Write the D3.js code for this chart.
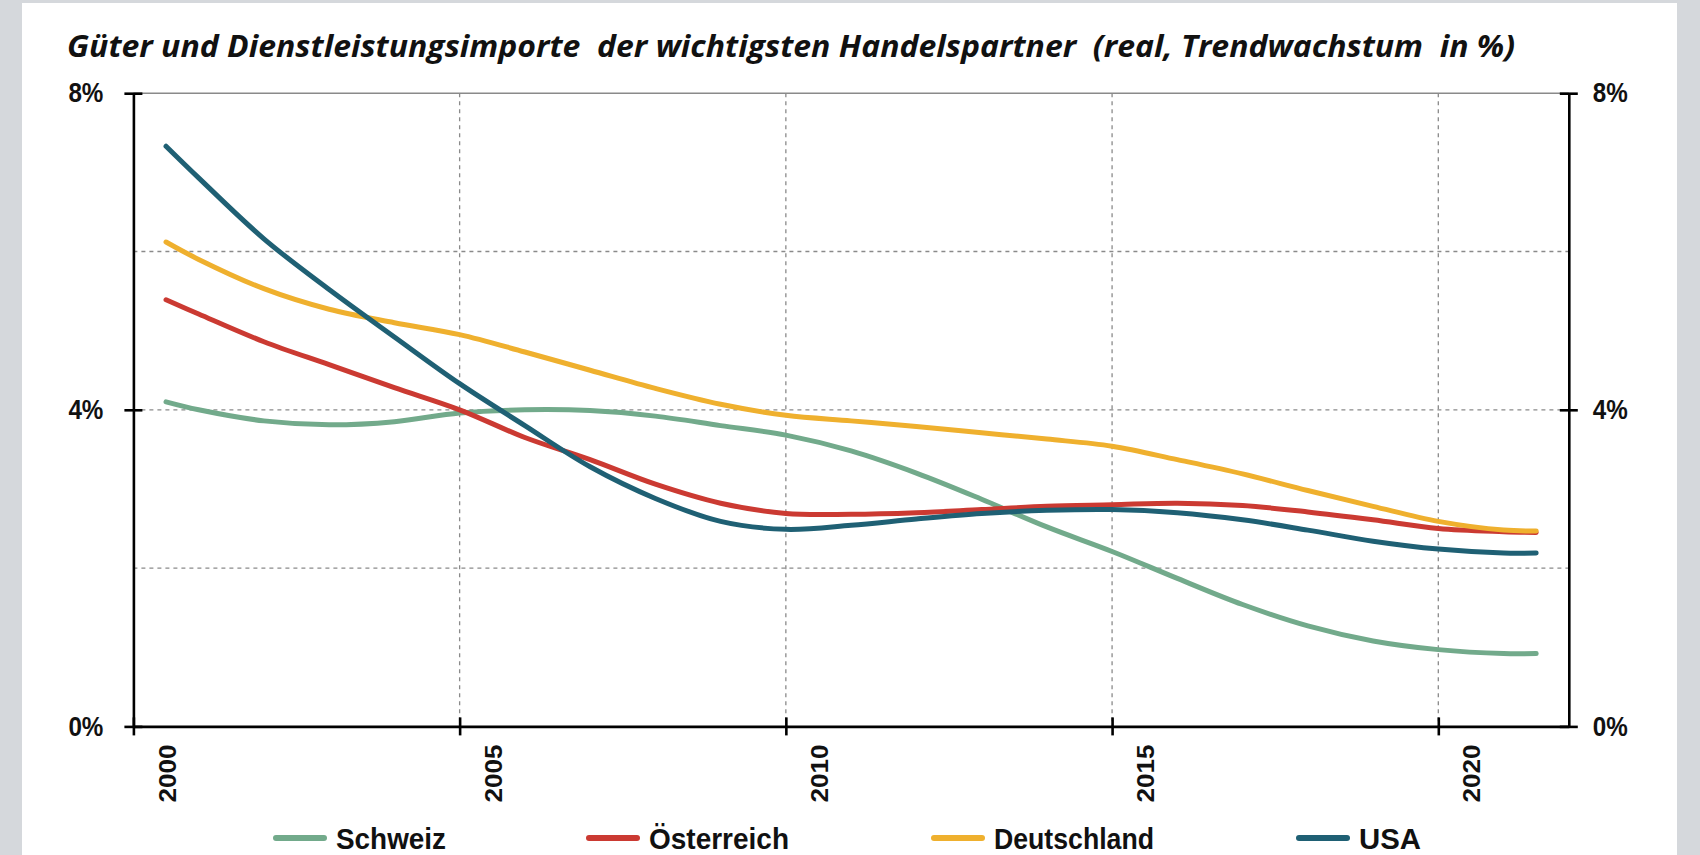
<!DOCTYPE html>
<html><head><meta charset="utf-8">
<script src="https://cdn.jsdelivr.net/npm/d3@7"></script>
<style>
html,body{margin:0;padding:0;background:#d5d8dc;}
svg{display:block;}
</style></head>
<body>
<svg id="c" width="1700" height="855"></svg>
<script>
const years = [2000.5,2001,2002,2003,2004,2005,2006,2007,2008,2009,2010,2011,2012,2013,2014,2015,2016,2017,2018,2019,2020,2021,2021.5];
const schweiz     = [4.10,4.00,3.86,3.81,3.85,3.96,4.00,3.99,3.92,3.80,3.68,3.48,3.20,2.87,2.52,2.21,1.87,1.54,1.27,1.08,0.97,0.92,0.92];
const oesterreich = [5.39,5.21,4.86,4.57,4.28,4.00,3.65,3.37,3.06,2.82,2.69,2.68,2.70,2.74,2.78,2.80,2.82,2.79,2.71,2.61,2.50,2.46,2.45];
const deutschland = [6.12,5.90,5.53,5.27,5.10,4.95,4.73,4.50,4.27,4.07,3.93,3.86,3.79,3.71,3.63,3.54,3.37,3.19,2.98,2.78,2.59,2.48,2.47];
const usa         = [7.33,6.93,6.16,5.52,4.92,4.33,3.80,3.28,2.88,2.59,2.49,2.54,2.62,2.69,2.73,2.74,2.70,2.61,2.48,2.34,2.24,2.19,2.19];
const seriesNames = ["Schweiz","Österreich","Deutschland","USA"];
const seriesColors = ["#72aa8b","#cb3a32","#efb02e","#1f6074"];
const xTicks = [2000,2005,2010,2015,2020];
const yTicksLabeled = [0,4,8];
const yGrid = [2,4,6];
const title = "Güter und Dienstleistungsimporte  der wichtigsten Handelspartner  (real, Trendwachstum  in %)";

const allSeries = [schweiz, oesterreich, deutschland, usa];
const svg = d3.select("#c");
svg.append("rect").attr("x",22).attr("y",3).attr("width",1655).attr("height",852).attr("fill","#fff");

const x = d3.scaleLinear().domain([2000,2022]).range([133.4,1568.8]);
const y = d3.scaleLinear().domain([0,8]).range([726.4,93.2]);
const x0 = x.range()[0], x1 = x.range()[1], y0 = y.range()[0], y1 = y.range()[1];

svg.append("text").attr("x",67).attr("y",57)
  .style("white-space","pre")
  .attr("font-family","'Open Sans', sans-serif").attr("font-style","italic").attr("font-weight",700)
  .attr("font-size",30).attr("fill","#111")
  .attr("textLength",1448).attr("lengthAdjust","spacingAndGlyphs")
  .text(title);

const grid = svg.append("g");
grid.selectAll("line.h").data(yGrid).join("line")
  .attr("x1",x0).attr("x2",x1).attr("y1",d=>y(d)).attr("y2",d=>y(d))
  .attr("stroke","#8a8a8a").attr("stroke-width",1.3).attr("stroke-dasharray","4,4");
grid.selectAll("line.v").data(xTicks.filter(d=>d>2000)).join("line")
  .attr("x1",d=>x(d)).attr("x2",d=>x(d)).attr("y1",y1).attr("y2",y0)
  .attr("stroke","#8a8a8a").attr("stroke-width",1.3).attr("stroke-dasharray","4,4");
svg.append("line").attr("x1",x0).attr("x2",x1).attr("y1",y1).attr("y2",y1)
  .attr("stroke","#8a8a8a").attr("stroke-width",1.5);

const line = d3.line().x((d,i)=>x(years[i])).y(d=>y(d)).curve(d3.curveCatmullRom.alpha(0.5));
svg.append("g").selectAll("path").data(allSeries).join("path")
  .attr("d",d=>line(d)).attr("fill","none")
  .attr("stroke",(d,i)=>seriesColors[i]).attr("stroke-width",5).attr("stroke-linecap","round");

const axL = svg.append("g").attr("transform",`translate(${x0},0)`)
  .call(d3.axisLeft(y).tickValues(yTicksLabeled).tickFormat(d=>d+"%").tickSizeOuter(0).tickPadding(24));
const axR = svg.append("g").attr("transform",`translate(${x1},0)`)
  .call(d3.axisRight(y).tickValues(yTicksLabeled).tickFormat(d=>d+"%").tickSizeOuter(0).tickPadding(18));
const axB = svg.append("g").attr("transform",`translate(0,${y0})`)
  .call(d3.axisBottom(x).tickValues(xTicks).tickFormat(d3.format("d")).tickSizeOuter(0));
[axL,axR].forEach(a=>{
  a.select(".domain").attr("stroke","#000").attr("stroke-width",2.6);
  a.selectAll(".tick line").attr("x1",-9).attr("x2",9).attr("stroke","#000").attr("stroke-width",2.6);
  a.selectAll(".tick text").attr("font-family","'Liberation Sans', Arial, sans-serif")
   .attr("font-weight","bold").attr("font-size",27).attr("fill","#111")
   .attr("textLength",35).attr("lengthAdjust","spacingAndGlyphs");
});
axB.select(".domain").attr("stroke","#000").attr("stroke-width",2.6);
axB.selectAll(".tick line").attr("y1",-9).attr("y2",9).attr("stroke","#000").attr("stroke-width",2.6);
axB.selectAll(".tick text")
  .attr("font-family","'Liberation Sans', Arial, sans-serif").attr("font-weight","bold")
  .attr("font-size",24).attr("fill","#111")
  .attr("text-anchor","end").attr("y",null)
  .attr("transform","translate(33,18) rotate(-90)")
  .attr("dy","0.36em")
  .attr("textLength",58).attr("lengthAdjust","spacingAndGlyphs");
svg.selectAll(".domain").attr("fill","none");

const legX = [276,589,934,1299];
const legW = [110,140,160,62];
const lg = svg.append("g");
seriesNames.forEach((n,i)=>{
  lg.append("line").attr("x1",legX[i]).attr("x2",legX[i]+48).attr("y1",838).attr("y2",838)
    .attr("stroke",seriesColors[i]).attr("stroke-width",6).attr("stroke-linecap","round");
  lg.append("text").attr("x",legX[i]+60).attr("y",849)
    .attr("font-family","'Liberation Sans', Arial, sans-serif").attr("font-weight","bold")
    .attr("font-size",30).attr("fill","#111")
    .attr("textLength",legW[i]).attr("lengthAdjust","spacingAndGlyphs").text(n);
});
</script>
</body></html>
